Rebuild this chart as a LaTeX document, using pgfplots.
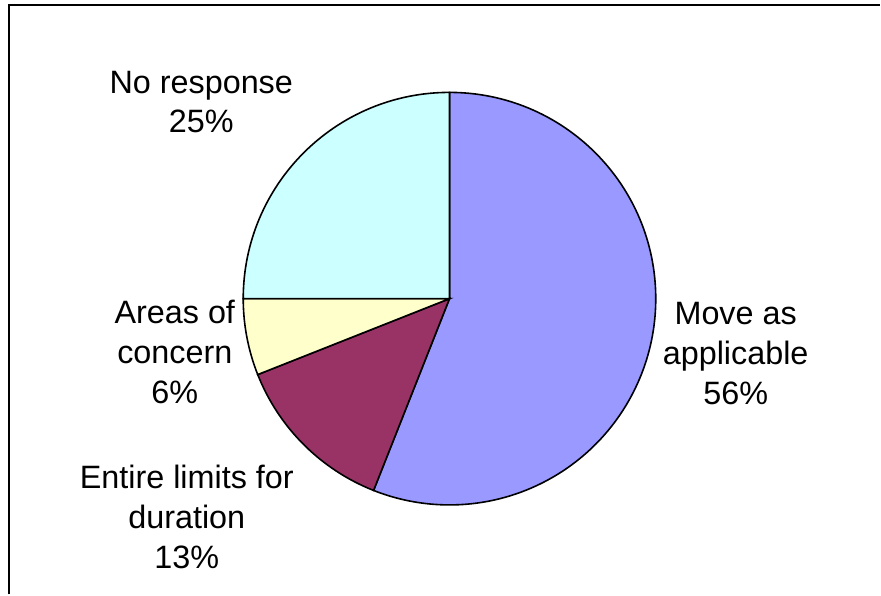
\documentclass[border=0pt]{standalone}
\usepackage{pgfplots}
\pgfplotsset{compat=1.18}
\usepackage{pgfplotstable}
\usepackage{fontspec}
\setmainfont{Liberation Sans}

\definecolor{moveC}{HTML}{9999FF}
\definecolor{entireC}{HTML}{993366}
\definecolor{areasC}{HTML}{FFFFCC}
\definecolor{noneC}{HTML}{CCFFFF}

% shares in percent, clockwise from 12 o'clock
\pgfplotstableread{
slice pct
Move 56
Entire 13
Areas 6
None 25
}\piedata

\begin{document}
\begin{tikzpicture}
\begin{axis}[
    scale only axis,
    width=881bp, height=595bp,
    xmin=0, xmax=881, ymin=0, ymax=595,
    y dir=reverse,
    hide axis,
    clip=false,
]
\pgfplotstablegetelem{0}{pct}\of\piedata \let\pA=\pgfplotsretval
\pgfplotstablegetelem{1}{pct}\of\piedata \let\pB=\pgfplotsretval
\pgfplotstablegetelem{2}{pct}\of\piedata \let\pC=\pgfplotsretval
\pgfplotstablegetelem{3}{pct}\of\piedata \let\pD=\pgfplotsretval
\pgfmathsetmacro\aA{90-3.6*\pA}
\pgfmathsetmacro\aB{\aA-3.6*\pB}
\pgfmathsetmacro\aC{\aB-3.6*\pC}

% white page, then the frame (only top and left edges visible)
\fill[white] (axis cs:0,0) rectangle (axis cs:881,595);
\draw[line width=2bp] (axis cs:9,595) -- (axis cs:9,5) -- (axis cs:881,5);

\filldraw[fill=moveC, draw=black, line width=1.6bp]
  (axis cs:450,299) -- ++(90:206.5bp) arc[start angle=90, end angle=\aA, radius=206.5bp] -- cycle;
\filldraw[fill=entireC, draw=black, line width=1.6bp]
  (axis cs:450,299) -- ++(\aA:206.5bp) arc[start angle=\aA, end angle=\aB, radius=206.5bp] -- cycle;
\filldraw[fill=areasC, draw=black, line width=1.6bp]
  (axis cs:450,299) -- ++(\aB:206.5bp) arc[start angle=\aB, end angle=\aC, radius=206.5bp] -- cycle;
\filldraw[fill=noneC, draw=black, line width=1.6bp]
  (axis cs:450,299) -- ++(\aC:206.5bp) arc[start angle=\aC, end angle=-270, radius=206.5bp] -- cycle;

% anchor=base is the baseline of the last line
\tikzset{lbl/.style={anchor=base, align=center, inner sep=0pt,
    font=\fontsize{32.5}{40}\selectfont}}
\node[lbl] at (axis cs:201.5,133) {No response\\25\%};
\node[lbl] at (axis cs:175,404) {Areas of\\concern\\6\%};
\node[lbl] at (axis cs:187,569) {Entire limits for\\duration\\13\%};
\node[lbl] at (axis cs:736.5,405) {Move as\\applicable\\56\%};
\end{axis}
\end{tikzpicture}
\end{document}
